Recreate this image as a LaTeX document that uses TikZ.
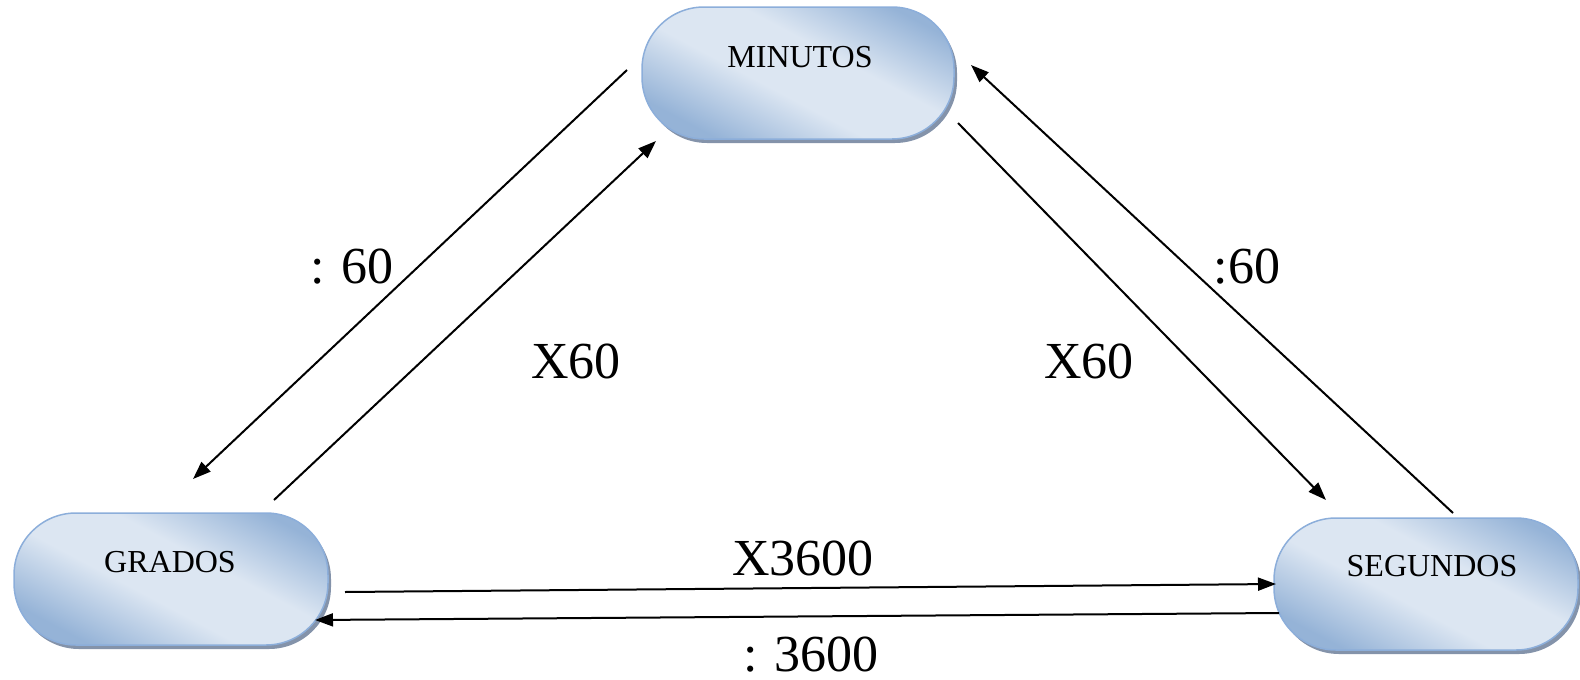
\documentclass[tikz,border=0pt]{standalone}
\usepackage{fontspec}
\setmainfont{Liberation Serif}
\usetikzlibrary{arrows.meta,shadows}
\definecolor{bdark}{HTML}{95B3D7}
\definecolor{blight}{HTML}{DCE6F2}
\definecolor{bborder}{HTML}{8CAEDA}
\definecolor{bshadow}{HTML}{8493AA}
\pgfdeclarehorizontalshading{boxshade}{100bp}{color(0bp)=(bdark); color(35bp)=(bdark); color(46bp)=(blight); color(55bp)=(blight); color(66bp)=(bdark); color(100bp)=(bdark)}
\tikzset{
  stadium/.style={rectangle, rounded corners=62pt, draw=bborder, line width=1.5pt,
    minimum height=132pt, inner sep=0pt,
    path picture={\begin{scope}[shift={(path picture bounding box.center)}]
      \shade[shading=boxshade, shading angle=62] (-160pt,-160pt) rectangle (160pt,160pt);\end{scope}},
    drop shadow={shadow xshift=3pt, shadow yshift=-4pt, fill=bshadow, opacity=1, draw=none}},
  boxtext/.style={inner sep=0pt, font=\fontsize{32pt}{36pt}\selectfont},
  lbl/.style={inner sep=0pt, anchor=base, text depth=0pt, font=\fontsize{52pt}{60pt}\selectfont},
  conn/.style={line width=2pt, -{Triangle[length=18pt,width=13pt]}}
}
\begin{document}
\begin{tikzpicture}[x=1pt,y=-1pt]
\useasboundingbox (0,0) rectangle (1580,680);
% boxes
\node[stadium, minimum width=312pt] (min) at (798,73) {};
\node[stadium, minimum width=314pt] (gra) at (171,579) {};
\node[stadium, minimum width=304pt] (seg) at (1426,584) {};
\node[boxtext] (minT) at (800,57) {MINUTOS};
\node[boxtext] (graT) at (170,562) {GRADOS};
\node[boxtext] (segT) at (1432,566) {SEGUNDOS};
% connector ends
\coordinate (mg0) at (627,70);
\coordinate (mg1) at (193,479);
\coordinate (gm0) at (274,500);
\coordinate (gm1) at (656,141);
\coordinate (ms0) at (958,123);
\coordinate (ms1) at (1326,500);
\coordinate (sm0) at (1453,513);
\coordinate (sm1) at (971,65);
\coordinate (gs0) at (345,592);
\coordinate (gs1) at (1276,584);
\coordinate (sg0) at (1279,613);
\coordinate (sg1) at (315,620);
\draw[conn] (mg0) -- (mg1);
\draw[conn] (gm0) -- (gm1);
\draw[conn] (ms0) -- (ms1);
\draw[conn] (sm0) -- (sm1);
\draw[conn] (gs0) -- (gs1);
\draw[conn] (sg0) -- (sg1);
% labels
\node[lbl] (l1) at (352,283) {: 60};
\node[lbl] (l2) at (576,378) {X60};
\node[lbl] (l3) at (1089,378) {X60};
\node[lbl] (l4) at (1247,283) {:60};
\node[lbl] (l5) at (803,575) {X3600};
\node[lbl] (l6) at (811,671) {: 3600};
\end{tikzpicture}
\end{document}
